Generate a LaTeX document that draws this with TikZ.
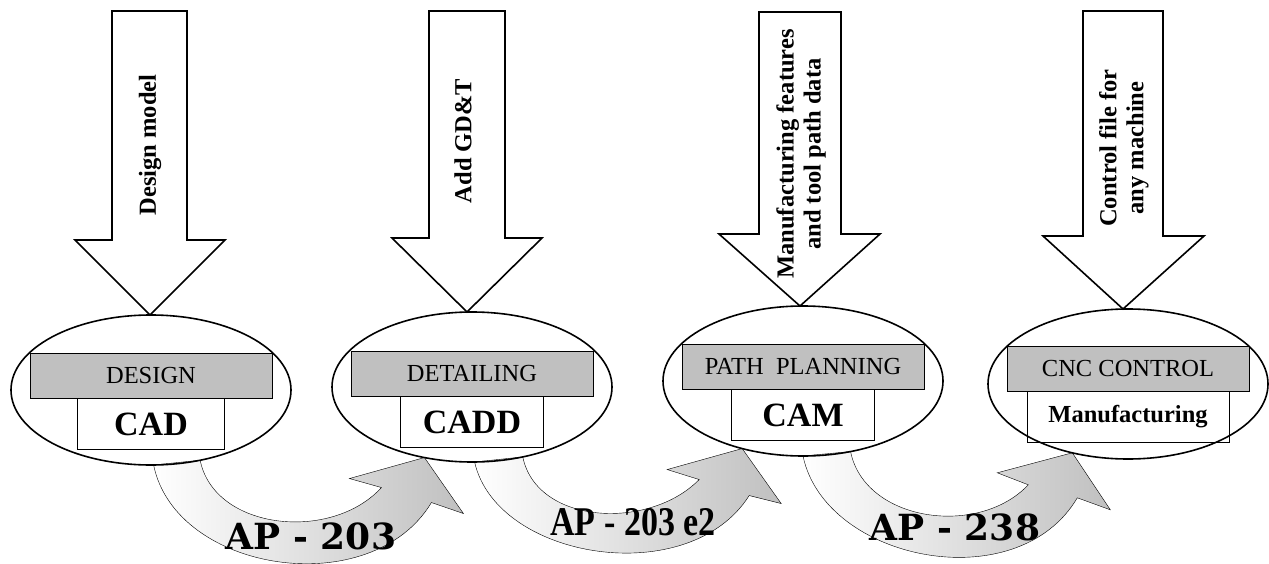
\documentclass[tikz,border=0pt]{standalone}
\usepackage{fontspec}
\setmainfont{Liberation Serif}
\newfontfamily\wideserif{DejaVu Serif}
\usetikzlibrary{positioning,calc,shapes.geometric,backgrounds}
\definecolor{ink}{RGB}{0,0,0}
\definecolor{silver}{RGB}{192,192,192}
\tikzset{
  every picture/.style={color=ink, line width=1.6pt},
  stage/.style={draw=ink, ellipse, minimum width=280pt, minimum height=150pt, inner sep=0pt, outer sep=0pt},
  tag/.style={draw=ink, fill=silver, minimum width=242pt, minimum height=45pt, inner sep=0pt, outer sep=0pt, font=\fontsize{24.5}{28}\selectfont},
  tool/.style={draw=ink, fill=white, minimum height=51pt, inner sep=0pt, outer sep=0pt, font=\fontsize{34}{38}\selectfont\bfseries},
  feed/.style={draw=ink, fill=white, line join=miter},
  feedtxt/.style={rotate=90, align=center, inner sep=0pt, font=\fontsize{24.5}{27}\selectfont\bfseries},
  link/.style={draw=ink, left color=white, right color=silver, line join=miter},
  aplbl/.style={inner sep=0pt, font=\wideserif\fontsize{36}{36}\selectfont\bfseries},
}

\begin{document}
\begin{tikzpicture}[x=1pt, y=-1pt]
  \useasboundingbox (0,0) rectangle (1269,564);
  % the four stages
  \node[stage] (E1) at (151,390) {};
  \node[stage] (E2) at (472,387) {};
  \node[stage] (E3) at (803,381) {};
  \node[stage] (E4) at (1128,384) {};
  \begin{scope}[on background layer]
    \node[tag] (G1) at ($(E1)+(0,-14)$) {DESIGN};
    \node[tool, minimum width=147pt, below=0pt of G1] (W1) {CAD};
    \node[tag] (G2) at ($(E2)+(0,-13)$) {DETAILING};
    \node[tool, minimum width=143pt, below=0pt of G2] (W2) {CADD};
    \node[tag] (G3) at ($(E3)+(0,-14)$) {PATH\ \ PLANNING};
    \node[tool, minimum width=143pt, below=0pt of G3] (W3) {CAM};
    \node[tag] (G4) at ($(E4)+(0,-15)$) {CNC CONTROL};
    \node[tool, minimum width=202pt, below=0pt of G4, font=\fontsize{24.5}{28}\selectfont\bfseries] (W4) {Manufacturing};
    % exchange arrows between stages
    \draw[link] (E1.-88) .. controls +(22,108) and +(-60,100) .. ($(E2.-124)+(7,45)$)
      -- ($(E2.-124)+(39,56)$) -- (E2.-124) -- ($(E2.-124)+(-75,21)$) -- ($(E2.-124)+(-43,30)$)
      .. controls +(-50,55) and +(14,70) .. (E1.-55) -- cycle;
    \draw[link] (E2.-88) .. controls +(22,98) and +(-60,95) .. ($(E3.-132)+(7,47)$)
      -- ($(E3.-132)+(39,55)$) -- (E3.-132) -- ($(E3.-132)+(-75,21)$) -- ($(E3.-132)+(-43,31)$)
      .. controls +(-50,51) and +(14,68) .. (E2.-54) -- cycle;
    \draw[link] (E3.-90) .. controls +(22,105) and +(-60,102) .. ($(E4.-129)+(5,45)$)
      -- ($(E4.-129)+(38,57)$) -- (E4.-129) -- ($(E4.-129)+(-75,20)$) -- ($(E4.-129)+(-44,32)$)
      .. controls +(-50,53) and +(14,70) .. (E3.-56) -- cycle;
  \end{scope}
  \node[aplbl] (L1) at (311,536) {AP - 203};
  \node[aplbl, font=\fontsize{34}{34}\selectfont\bfseries] (L2) at (633,522) {\scalebox{1}[1.2]{AP - 203 e2}};
  \node[aplbl] (L3) at (955,527) {AP - 238};
  % inputs from above
  \draw[feed] ($(E1.north)+(-1,0)$) -- ++(75,-75) -- ++(-38,0) -- ++(0,-229) -- ++(-75,0) -- ++(0,229) -- ++(-37,0) -- cycle;
  \draw[feed] ($(E2.north)+(-5,0)$) -- ++(75,-74) -- ++(-37,0) -- ++(0,-227) -- ++(-76,0) -- ++(0,227) -- ++(-37,0) -- cycle;
  \draw[feed] ($(E3.north)+(-3,0)$) -- ++(80,-72) -- ++(-39,0) -- ++(0,-222) -- ++(-82,0) -- ++(0,222) -- ++(-40,0) -- cycle;
  \draw[feed] ($(E4.north)+(-5,0)$) -- ++(81,-73) -- ++(-41,0) -- ++(0,-225) -- ++(-80,0) -- ++(0,225) -- ++(-40,0) -- cycle;
  \node[feedtxt] (T1) at (150,145) {Design model};
  \node[feedtxt] (T2) at (463,141) {Add GD\&T};
  \node[feedtxt] (T3) at (801,154) {Manufacturing features\\ and tool path data};
  \node[feedtxt] (T4) at (1124,148) {Control file for\\ any machine};
\end{tikzpicture}
\end{document}
